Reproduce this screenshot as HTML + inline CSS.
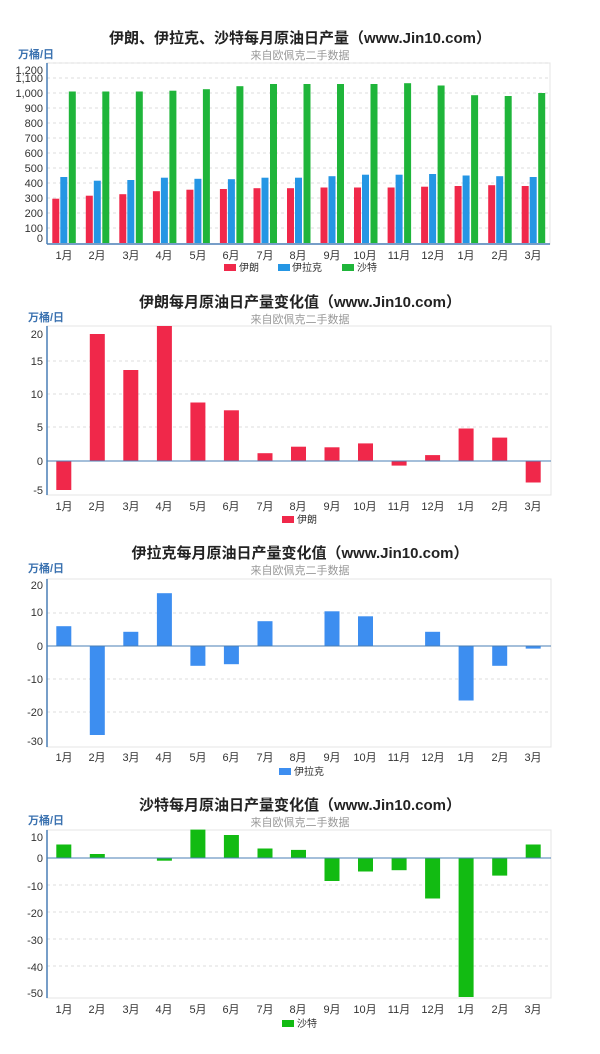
<!DOCTYPE html>
<html><head><meta charset="utf-8"><style>
html,body{margin:0;padding:0;background:#fff;}
svg{display:block;font-family:"Liberation Sans","Noto Sans CJK SC",sans-serif;}
.t{font-size:15px;font-weight:bold;fill:#222;text-anchor:middle}
.s{font-size:11px;fill:#999;text-anchor:middle}
.u{font-size:11px;fill:#3b72b0;font-weight:bold}
.y{font-size:11px;fill:#333;text-anchor:end}
.m{font-size:11px;fill:#333;text-anchor:middle}
.l{font-size:10px;fill:#333}
.g{stroke:#ddd;stroke-dasharray:3,3;stroke-width:1}
.b{fill:none;stroke:#e4e4e4}
.ax{stroke:#4a7fb5;stroke-width:1.5}
</style></head><body>
<svg width="600" height="1054" viewBox="0 0 600 1054">
<!-- Chart 1 -->
<text class="t" x="300" y="43">伊朗、伊拉克、沙特每月原油日产量（www.Jin10.com）</text>
<text class="s" x="300" y="59">来自欧佩克二手数据</text>
<text class="u" x="18" y="58">万桶/日</text>
<rect class="b" x="47" y="63" width="503" height="181"/>
<g>
<line class="g" x1="47" x2="550" y1="63" y2="63"/><line class="g" x1="47" x2="550" y1="78" y2="78"/><line class="g" x1="47" x2="550" y1="93" y2="93"/><line class="g" x1="47" x2="550" y1="108" y2="108"/><line class="g" x1="47" x2="550" y1="123" y2="123"/><line class="g" x1="47" x2="550" y1="138" y2="138"/><line class="g" x1="47" x2="550" y1="153" y2="153"/><line class="g" x1="47" x2="550" y1="168" y2="168"/><line class="g" x1="47" x2="550" y1="183" y2="183"/><line class="g" x1="47" x2="550" y1="198" y2="198"/><line class="g" x1="47" x2="550" y1="213" y2="213"/><line class="g" x1="47" x2="550" y1="228" y2="228"/>
</g>
<text class="y" x="43" y="74">1,200</text><text class="y" x="43" y="82">1,100</text><text class="y" x="43" y="97">1,000</text><text class="y" x="43" y="112">900</text><text class="y" x="43" y="127">800</text><text class="y" x="43" y="142">700</text><text class="y" x="43" y="157">600</text><text class="y" x="43" y="172">500</text><text class="y" x="43" y="187">400</text><text class="y" x="43" y="202">300</text><text class="y" x="43" y="217">200</text><text class="y" x="43" y="232">100</text><text class="y" x="43" y="242">0</text>
<g transform="translate(0,243) scale(1,-1)">
<g fill="#f0284a">
<rect x="52.3" y="0" width="7" height="44.3"/><rect x="85.8" y="0" width="7" height="47.3"/><rect x="119.3" y="0" width="7" height="48.8"/><rect x="152.9" y="0" width="7" height="51.8"/><rect x="186.4" y="0" width="7" height="53.3"/><rect x="219.9" y="0" width="7" height="54"/><rect x="253.5" y="0" width="7" height="54.8"/><rect x="287" y="0" width="7" height="54.8"/><rect x="320.5" y="0" width="7" height="55.5"/><rect x="354" y="0" width="7" height="55.5"/><rect x="387.6" y="0" width="7" height="55.5"/><rect x="421.1" y="0" width="7" height="56.3"/><rect x="454.6" y="0" width="7" height="57"/><rect x="488.2" y="0" width="7" height="57.8"/><rect x="521.7" y="0" width="7" height="57"/>
</g>
<g fill="#2596e4">
<rect x="60.3" y="0" width="7" height="66"/><rect x="93.8" y="0" width="7" height="62.3"/><rect x="127.3" y="0" width="7" height="63"/><rect x="160.9" y="0" width="7" height="65.3"/><rect x="194.4" y="0" width="7" height="64.2"/><rect x="227.9" y="0" width="7" height="63.8"/><rect x="261.5" y="0" width="7" height="65.3"/><rect x="295" y="0" width="7" height="65.3"/><rect x="328.5" y="0" width="7" height="66.8"/><rect x="362" y="0" width="7" height="68.3"/><rect x="395.6" y="0" width="7" height="68.3"/><rect x="429.1" y="0" width="7" height="69"/><rect x="462.6" y="0" width="7" height="67.5"/><rect x="496.2" y="0" width="7" height="66.8"/><rect x="529.7" y="0" width="7" height="66"/>
</g>
<g fill="#1fb53a">
<rect x="68.8" y="0" width="7" height="151.5"/><rect x="102.3" y="0" width="7" height="151.5"/><rect x="135.8" y="0" width="7" height="151.5"/><rect x="169.4" y="0" width="7" height="152.3"/><rect x="202.9" y="0" width="7" height="153.8"/><rect x="236.4" y="0" width="7" height="156.8"/><rect x="270" y="0" width="7" height="159"/><rect x="303.5" y="0" width="7" height="159"/><rect x="337" y="0" width="7" height="159"/><rect x="370.5" y="0" width="7" height="159"/><rect x="404.1" y="0" width="7" height="159.8"/><rect x="437.6" y="0" width="7" height="157.5"/><rect x="471.1" y="0" width="7" height="147.8"/><rect x="504.7" y="0" width="7" height="147"/><rect x="538.2" y="0" width="7" height="150"/>
</g>
</g>
<line class="ax" x1="47" x2="47" y1="63" y2="244"/><line class="ax" x1="47" x2="550" y1="244" y2="244"/>
<g><text class="m" x="64" y="259">1月</text><text class="m" x="97" y="259">2月</text><text class="m" x="131" y="259">3月</text><text class="m" x="164" y="259">4月</text><text class="m" x="198" y="259">5月</text><text class="m" x="231" y="259">6月</text><text class="m" x="265" y="259">7月</text><text class="m" x="298" y="259">8月</text><text class="m" x="332" y="259">9月</text><text class="m" x="365" y="259">10月</text><text class="m" x="399" y="259">11月</text><text class="m" x="433" y="259">12月</text><text class="m" x="466" y="259">1月</text><text class="m" x="500" y="259">2月</text><text class="m" x="533" y="259">3月</text></g>
<rect x="224" y="264" width="12" height="7" fill="#f0284a"/><text class="l" x="239" y="271">伊朗</text>
<rect x="278" y="264" width="12" height="7" fill="#2596e4"/><text class="l" x="292" y="271">伊拉克</text>
<rect x="342" y="264" width="12" height="7" fill="#1fb53a"/><text class="l" x="357" y="271">沙特</text>

<!-- Chart 2 -->
<text class="t" x="300" y="307">伊朗每月原油日产量变化值（www.Jin10.com）</text>
<text class="s" x="300" y="323">来自欧佩克二手数据</text>
<text class="u" x="28" y="321">万桶/日</text>
<rect class="b" x="47" y="326" width="504" height="169"/>
<line class="g" x1="47" x2="550" y1="361" y2="361"/><line class="g" x1="47" x2="550" y1="394" y2="394"/><line class="g" x1="47" x2="550" y1="427" y2="427"/>
<text class="y" x="43" y="338">20</text><text class="y" x="43" y="365">15</text><text class="y" x="43" y="398">10</text><text class="y" x="43" y="431">5</text><text class="y" x="43" y="465">0</text><text class="y" x="43" y="494">-5</text>
<g transform="translate(0,461) scale(1,-1)" fill="#f0284a">
<rect x="56.3" y="-29" width="15" height="29"/><rect x="89.8" y="0" width="15" height="127"/><rect x="123.3" y="0" width="15" height="91"/><rect x="156.9" y="0" width="15" height="135"/><rect x="190.4" y="0" width="15" height="58.5"/><rect x="223.9" y="0" width="15" height="50.7"/><rect x="257.5" y="0" width="15" height="7.8"/><rect x="291" y="0" width="15" height="14.3"/><rect x="324.5" y="0" width="15" height="13.7"/><rect x="358" y="0" width="15" height="17.6"/><rect x="391.6" y="-4.6" width="15" height="4.6"/><rect x="425.1" y="0" width="15" height="5.9"/><rect x="458.6" y="0" width="15" height="32.5"/><rect x="492.2" y="0" width="15" height="23.4"/><rect x="525.7" y="-21.5" width="15" height="21.5"/>
</g>
<line class="ax" x1="47" x2="47" y1="326" y2="495"/><line x1="47" x2="551" y1="461" y2="461" stroke="#4a7fb5"/>
<g><text class="m" x="64" y="510">1月</text><text class="m" x="97" y="510">2月</text><text class="m" x="131" y="510">3月</text><text class="m" x="164" y="510">4月</text><text class="m" x="198" y="510">5月</text><text class="m" x="231" y="510">6月</text><text class="m" x="265" y="510">7月</text><text class="m" x="298" y="510">8月</text><text class="m" x="332" y="510">9月</text><text class="m" x="365" y="510">10月</text><text class="m" x="399" y="510">11月</text><text class="m" x="433" y="510">12月</text><text class="m" x="466" y="510">1月</text><text class="m" x="500" y="510">2月</text><text class="m" x="533" y="510">3月</text></g>
<rect x="282" y="516" width="12" height="7" fill="#f0284a"/><text class="l" x="297" y="523">伊朗</text>

<!-- Chart 3 -->
<text class="t" x="300" y="558">伊拉克每月原油日产量变化值（www.Jin10.com）</text>
<text class="s" x="300" y="574">来自欧佩克二手数据</text>
<text class="u" x="28" y="572">万桶/日</text>
<rect class="b" x="47" y="579" width="504" height="168"/>
<line class="g" x1="47" x2="550" y1="613" y2="613"/><line class="g" x1="47" x2="550" y1="679" y2="679"/><line class="g" x1="47" x2="550" y1="712" y2="712"/>
<text class="y" x="43" y="589">20</text><text class="y" x="43" y="616">10</text><text class="y" x="43" y="650">0</text><text class="y" x="43" y="683">-10</text><text class="y" x="43" y="716">-20</text><text class="y" x="43" y="745">-30</text>
<g transform="translate(0,646) scale(1,-1)" fill="#3d8ef0">
<rect x="56.3" y="0" width="15" height="19.8"/><rect x="89.8" y="-89" width="15" height="89"/><rect x="123.3" y="0" width="15" height="14.2"/><rect x="156.9" y="0" width="15" height="52.8"/><rect x="190.4" y="-19.8" width="15" height="19.8"/><rect x="223.9" y="-18.2" width="15" height="18.2"/><rect x="257.5" y="0" width="15" height="24.8"/><rect x="324.5" y="0" width="15" height="34.7"/><rect x="358" y="0" width="15" height="29.7"/><rect x="425.1" y="0" width="15" height="14.2"/><rect x="458.6" y="-54.5" width="15" height="54.5"/><rect x="492.2" y="-19.8" width="15" height="19.8"/><rect x="525.7" y="-2.6" width="15" height="2.6"/>
</g>
<line class="ax" x1="47" x2="47" y1="579" y2="747"/><line x1="47" x2="551" y1="646" y2="646" stroke="#4a7fb5"/>
<g><text class="m" x="64" y="761">1月</text><text class="m" x="97" y="761">2月</text><text class="m" x="131" y="761">3月</text><text class="m" x="164" y="761">4月</text><text class="m" x="198" y="761">5月</text><text class="m" x="231" y="761">6月</text><text class="m" x="265" y="761">7月</text><text class="m" x="298" y="761">8月</text><text class="m" x="332" y="761">9月</text><text class="m" x="365" y="761">10月</text><text class="m" x="399" y="761">11月</text><text class="m" x="433" y="761">12月</text><text class="m" x="466" y="761">1月</text><text class="m" x="500" y="761">2月</text><text class="m" x="533" y="761">3月</text></g>
<rect x="279" y="768" width="12" height="7" fill="#3d8ef0"/><text class="l" x="294" y="775">伊拉克</text>

<!-- Chart 4 -->
<text class="t" x="300" y="810">沙特每月原油日产量变化值（www.Jin10.com）</text>
<text class="s" x="300" y="826">来自欧佩克二手数据</text>
<text class="u" x="28" y="824">万桶/日</text>
<rect class="b" x="47" y="830" width="504" height="168"/>
<line class="g" x1="47" x2="550" y1="885" y2="885"/><line class="g" x1="47" x2="550" y1="912" y2="912"/><line class="g" x1="47" x2="550" y1="939" y2="939"/><line class="g" x1="47" x2="550" y1="966" y2="966"/>
<text class="y" x="43" y="841">10</text><text class="y" x="43" y="862">0</text><text class="y" x="43" y="890">-10</text><text class="y" x="43" y="917">-20</text><text class="y" x="43" y="944">-30</text><text class="y" x="43" y="971">-40</text><text class="y" x="43" y="997">-50</text>
<g transform="translate(0,858) scale(1,-1)" fill="#12bb12">
<rect x="56.3" y="0" width="15" height="13.5"/><rect x="89.8" y="0" width="15" height="4"/><rect x="156.9" y="-2.7" width="15" height="2.7"/><rect x="190.4" y="0" width="15" height="28.4"/><rect x="223.9" y="0" width="15" height="23"/><rect x="257.5" y="0" width="15" height="9.5"/><rect x="291" y="0" width="15" height="8.1"/><rect x="324.5" y="-23" width="15" height="23"/><rect x="358" y="-13.5" width="15" height="13.5"/><rect x="391.6" y="-12.2" width="15" height="12.2"/><rect x="425.1" y="-40.5" width="15" height="40.5"/><rect x="458.6" y="-139" width="15" height="139"/><rect x="492.2" y="-17.6" width="15" height="17.6"/><rect x="525.7" y="0" width="15" height="13.5"/>
</g>
<line class="ax" x1="47" x2="47" y1="830" y2="998"/><line x1="47" x2="551" y1="858" y2="858" stroke="#4a7fb5"/>
<g><text class="m" x="64" y="1013">1月</text><text class="m" x="97" y="1013">2月</text><text class="m" x="131" y="1013">3月</text><text class="m" x="164" y="1013">4月</text><text class="m" x="198" y="1013">5月</text><text class="m" x="231" y="1013">6月</text><text class="m" x="265" y="1013">7月</text><text class="m" x="298" y="1013">8月</text><text class="m" x="332" y="1013">9月</text><text class="m" x="365" y="1013">10月</text><text class="m" x="399" y="1013">11月</text><text class="m" x="433" y="1013">12月</text><text class="m" x="466" y="1013">1月</text><text class="m" x="500" y="1013">2月</text><text class="m" x="533" y="1013">3月</text></g>
<rect x="282" y="1020" width="12" height="7" fill="#12bb12"/><text class="l" x="297" y="1027">沙特</text>
</svg>
</body></html>
